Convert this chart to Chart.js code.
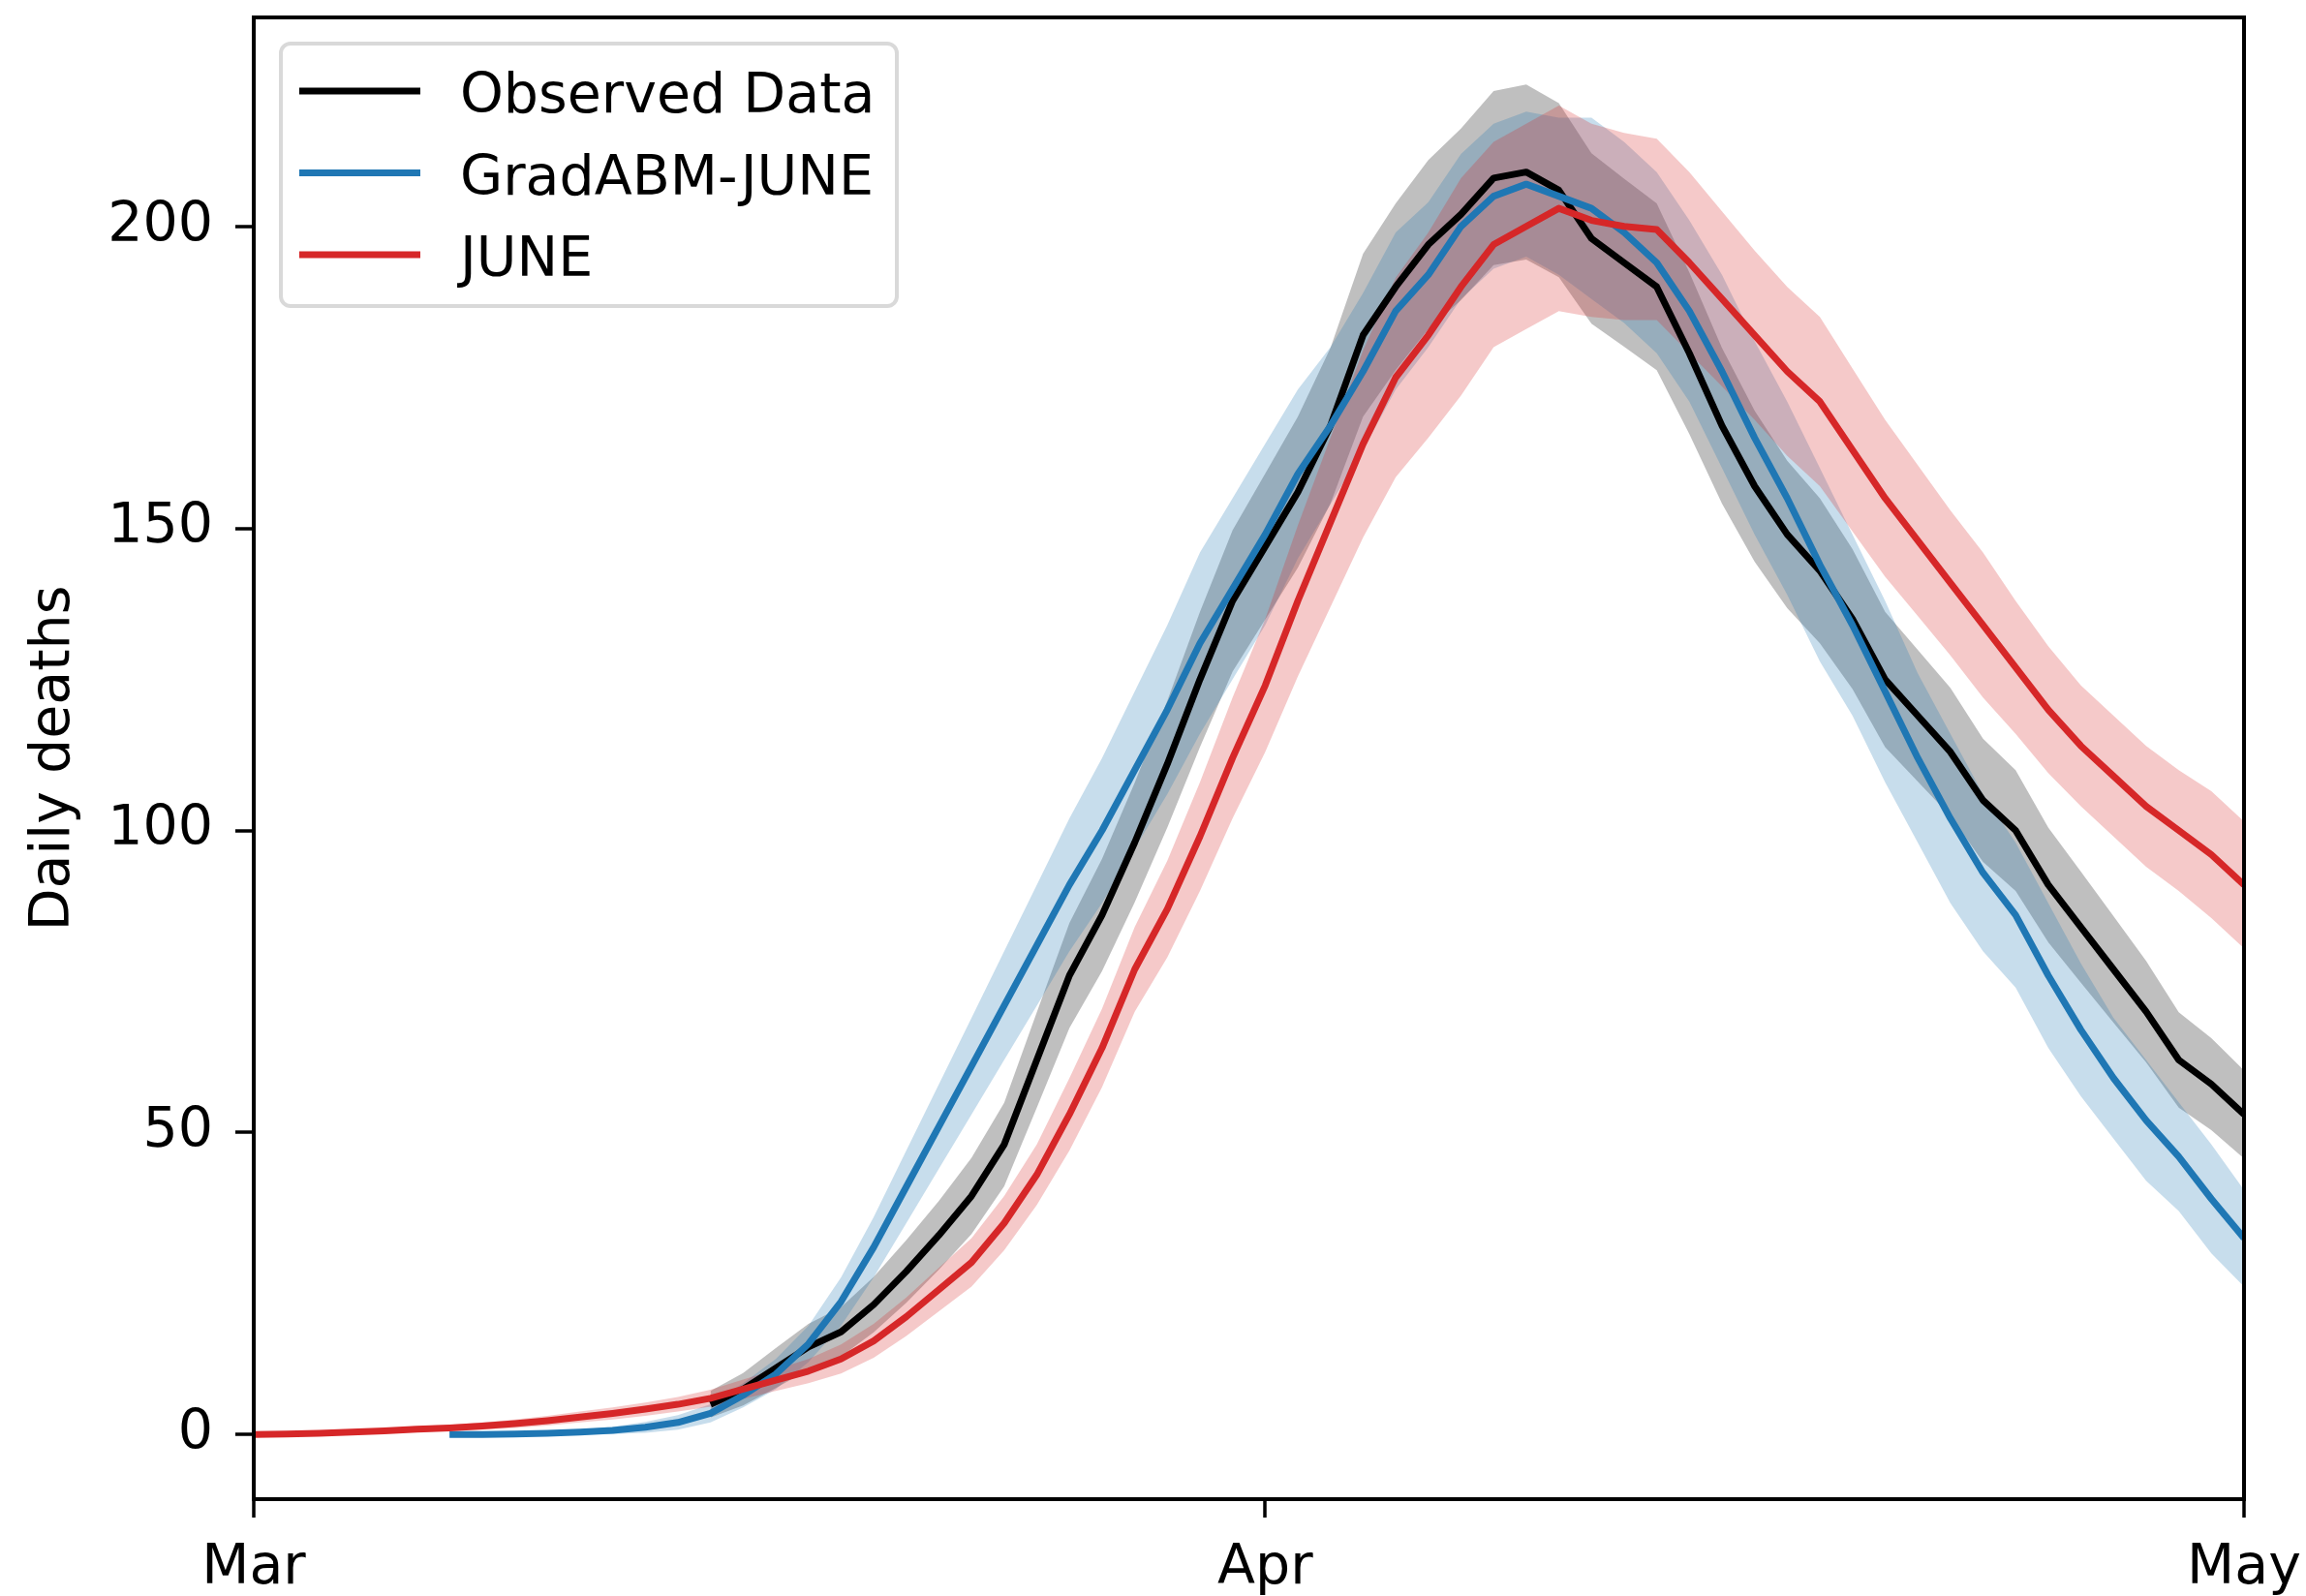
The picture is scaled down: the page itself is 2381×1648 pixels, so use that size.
<!DOCTYPE html>
<html><head><meta charset="utf-8">
<script src="https://cdn.jsdelivr.net/npm/chart.js@4.4.1/dist/chart.umd.min.js"></script>
<style>html,body{margin:0;padding:0;background:#fff;} #wrap{position:relative;width:2381px;height:1648px;} canvas{display:block;}</style>
</head><body><div id="wrap"><canvas id="c" width="2381" height="1648"></canvas></div>
<script>
// ---- data (day index from 1 March) ----
const days = [0,1,2,3,4,5,6,7,8,9,10,11,12,13,14,15,16,17,18,19,20,21,22,23,24,25,26,27,28,29,30,31,32,33,34,35,36,37,38,39,40,41,42,43,44,45,46,47,48,49,50,51,52,53,54,55,56,57,58,59,60,61];
const xTicks = [0, 31, 61];
const xTickLabels = ['Mar', 'Apr', 'May'];
const yTicks = [0, 50, 100, 150, 200];
const seriesNames = ['Observed Data', 'GradABM-JUNE', 'JUNE'];

const _ = null;
const observed = [_,_,_,_,_,_,_,_,_,_,_,_,_,_,5,7.5,11,14.5,17,21.5,27,33,39.5,48,62,76,86,98,111,125,138,147,156,167,182,190,197,202,208,209,206,198,194,190,179,167,157,149,143,135,125,119,113,105,100,91,84,77,70,62,58,53];
const observedLow = [_,_,_,_,_,_,_,_,_,_,_,_,_,_,2.8,4.8,7.7,10.7,12.9,16.9,21.8,27.3,33.2,41.1,54.1,67.3,76.7,88.1,100.5,113.8,126.3,134.9,143.5,154.1,168.5,176.2,183,187.8,193.6,194.5,191.6,183.9,180.1,176.2,165.6,154.1,144.5,136.8,131,123.4,113.8,108.1,102.4,94.8,90,81.5,74.8,68.2,61.6,54.1,50.4,45.7];
const observedHigh = [_,_,_,_,_,_,_,_,_,_,_,_,_,_,7.2,10.2,14.3,18.3,21.1,26.1,32.2,38.7,45.8,54.9,69.9,84.7,95.3,107.9,121.5,136.2,149.7,159.1,168.5,179.9,195.5,203.8,211,216.2,222.4,223.5,220.4,212.1,207.9,203.8,192.4,179.9,169.5,161.2,155,146.6,136.2,129.9,123.6,115.2,110,100.5,93.2,85.8,78.4,69.9,65.6,60.3];

const gradABM = [_,_,_,_,_,_,0,0,0.1,0.2,0.4,0.7,1.2,2,3.5,6.5,10,15,22,31,41,51,61,71,81,91,100,110,120,131,140,149,159,167,176,186,192,200,205,207,205,203,199,194,186,176,165,155,144,134,123,112,102,93,86,76,67,59,52,46,39,32.5];
const gradABMLow = [_,_,_,_,_,_,0,0,0,0,0,0.1,0.3,0.8,2,4.5,7.5,12,18,26,35,44,53,62,71,80,88,97,106,116,125,134,145,154,163,173,180,188,193,195,192,188,184,179,171,160,149,139,128,119,108,98,88,80,74,64,56,49,42,37,30,24.5];
const gradABMHigh = [_,_,_,_,_,_,0,0.1,0.3,0.5,0.8,1.3,2.1,3.2,5,8.5,12.5,18,26,36,47,58,69,80,91,102,112,123,134,146,155,164,173,180,189,199,204,212,217,219,218,218,214,209,201,192,181,171,160,149,138,126,116,106,98,88,78,69,62,55,48,40.5];

const june = [0,0.1,0.2,0.4,0.6,0.9,1.1,1.4,1.8,2.3,2.9,3.5,4.2,5,6,7.5,9,10.5,12.5,15.5,19.5,24,28.5,35,43,53,64,77,87,99,112,124,138,151,164,175,182,190,197,200,203,201,200,199.5,194,188,182,176,171,163,155,148,141,134,127,120,114,109,104,100,96,91];
const juneLow = [0,0,0,0.1,0.2,0.4,0.6,0.8,1.1,1.5,2,2.5,3.1,3.8,4.6,5.9,7.2,8.5,10.1,12.7,16.3,20.4,24.5,30.5,38,47,57.5,70,79,90,102,113,125.5,137,148.5,158.5,165,172,180,183,186,185,184.5,184.5,179,173.5,168,162,157,149.5,142,135.5,129,122,116,109.5,104,99,94,90,85.5,80.5];
const juneHigh = [0.2,0.3,0.5,0.7,1,1.4,1.6,2,2.5,3.1,3.8,4.5,5.3,6.2,7.4,9.1,10.8,12.5,14.9,18.3,22.7,27.6,32.5,39.5,48,59,70.5,84,95,108,122,135,150.5,165,179.5,191.5,199,208,214,217,220,217,215.5,214.5,209,202.5,196,190,185,176.5,168,160.5,153,146,138,130.5,124,119,114,110,106.5,101.5];

// ---- styles ----
const FAMILY = "'DejaVu Sans', sans-serif";
const FS = 57;
const colors = ['#000000', '#1f77b4', '#d62728'];
const bandColors = ['rgba(0,0,0,0.25)', 'rgba(31,119,180,0.25)', 'rgba(214,39,40,0.25)'];

const pts = arr => days.map((d, i) => arr[i] == null ? null : {x: d, y: arr[i]}).filter(p => p);

function band(arrLo, arrHi, color, orderBase) {
  return [
    {label: 'lo', data: pts(arrLo), borderWidth: 0, borderColor: 'transparent', pointRadius: 0, fill: false, order: orderBase + 1},
    {label: 'hi', data: pts(arrHi), borderWidth: 0, borderColor: 'transparent', pointRadius: 0, fill: '-1', backgroundColor: color, order: orderBase}
  ];
}
function line(arr, color, label, order) {
  return {label, data: pts(arr), borderColor: color, borderWidth: 7, pointRadius: 0, fill: false, tension: 0,
          borderJoinStyle: 'round', borderCapStyle: 'butt', order};
}

const datasets = [
  ...band(observedLow, observedHigh, bandColors[0], 20),
  ...band(gradABMLow, gradABMHigh, bandColors[1], 16),
  ...band(juneLow, juneHigh, bandColors[2], 12),
  line(observed, colors[0], seriesNames[0], 3),
  line(gradABM, colors[1], seriesNames[1], 2),
  line(june, colors[2], seriesNames[2], 1)
];

const framePlugin = {
  id: 'frame',
  afterDatasetsDraw(chart) {
    const {ctx, chartArea: a} = chart;
    ctx.save();
    ctx.strokeStyle = '#000';
    ctx.lineWidth = 4;
    ctx.strokeRect(a.left, a.top, a.right - a.left, a.bottom - a.top);
    ctx.restore();
  }
};

const legendPlugin = {
  id: 'mplLegend',
  afterDraw(chart) {
    const {ctx, chartArea: a} = chart;
    const bx = a.left + 28, by = a.top + 27, bw = 636, bh = 271;
    ctx.save();
    ctx.beginPath();
    ctx.roundRect(bx, by, bw, bh, 10);
    ctx.fillStyle = 'rgba(255,255,255,0.8)';
    ctx.fill();
    ctx.strokeStyle = '#d9d9d9';
    ctx.lineWidth = 4;
    ctx.stroke();
    ctx.font = FS + 'px ' + FAMILY;
    ctx.textBaseline = 'alphabetic';
    ctx.textAlign = 'left';
    for (let i = 0; i < seriesNames.length; i++) {
      const cy = by + 49 + i * 84.5;
      ctx.beginPath();
      ctx.moveTo(bx + 19, cy);
      ctx.lineTo(bx + 144, cy);
      ctx.strokeStyle = colors[i];
      ctx.lineWidth = 7;
      ctx.stroke();
      ctx.fillStyle = '#000';
      ctx.fillText(seriesNames[i], bx + 185, cy + 22);
    }
    ctx.restore();
  }
};

const tickGrid = {display: true, drawOnChartArea: false, drawTicks: true, tickLength: 19, tickWidth: 3.5, tickColor: '#000', lineWidth: 0};

new Chart(document.getElementById('c'), {
  type: 'line',
  data: {datasets},
  options: {
    responsive: false,
    animation: false,
    devicePixelRatio: 1,
    parsing: false,
    normalized: true,
    layout: {padding: {left: 0, right: 64, top: 18, bottom: 0}},
    plugins: {legend: {display: false}, tooltip: {enabled: false}, filler: {propagate: false}},
    scales: {
      x: {
        type: 'linear', min: 0, max: 61,
        afterBuildTicks: s => { s.ticks = xTicks.map(v => ({value: v})); },
        ticks: {callback: (v, i) => xTickLabels[i], font: {family: FAMILY, size: FS}, color: '#000', padding: 19, maxRotation: 0, minRotation: 0, autoSkip: false},
        grid: tickGrid,
        border: {display: false},
        afterFit: s => { s.height = 100; s.paddingLeft = 0; s.paddingRight = 0; }
      },
      y: {
        type: 'linear', min: -10.7, max: 234.6,
        afterBuildTicks: s => { s.ticks = yTicks.map(v => ({value: v})); },
        ticks: {callback: v => String(v), font: {family: FAMILY, size: FS}, color: '#000', padding: 23, autoSkip: false},
        grid: tickGrid,
        border: {display: false},
        title: {display: true, text: 'Daily deaths', font: {family: FAMILY, size: FS}, color: '#000', padding: {top: 22, bottom: 0}},
        afterFit: s => { s.width = 262; s.paddingTop = 0; s.paddingBottom = 0; }
      }
    }
  },
  plugins: [framePlugin, legendPlugin]
});
</script>
</body></html>
